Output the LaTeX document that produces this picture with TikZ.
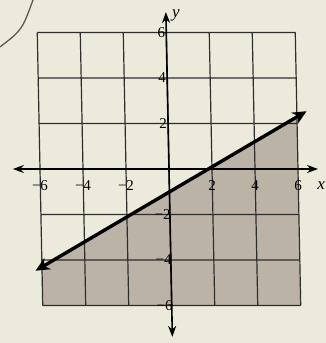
\documentclass[tikz,border=0pt]{standalone}
\usepackage{fontspec}
\setmainfont{Liberation Serif}
\usetikzlibrary{arrows.meta}
\definecolor{paper}{HTML}{ECEADA}
\definecolor{halfgray}{HTML}{BAB3A6}
\definecolor{gridc}{HTML}{2E2E2E}
\definecolor{arcc}{HTML}{5A5A56}
\tikzset{
  gridline/.style={draw=gridc, line width=1.2pt},
  axisline/.style={draw=black, line width=1.6pt, {Stealth[length=11pt,width=8pt]}-{Stealth[length=11pt,width=8pt]}},
  bdline/.style={draw=black, line width=3.4pt, {Stealth[length=14pt,width=13pt]}-{Stealth[length=14pt,width=13pt]}},
  xlab/.style={inner sep=0pt, anchor=center, yshift=-17pt, font=\fontsize{15}{15}\selectfont},
  ylab/.style={inner sep=0pt, anchor=east, font=\fontsize{15}{15}\selectfont},
  axname/.style={inner sep=0pt, font=\fontsize{17}{17}\selectfont\itshape}
}
\begin{document}
\begin{tikzpicture}[x=21.5pt,y=22.75pt]
\path[use as bounding box, fill=paper] (-169pt,-174pt) rectangle (157pt,169pt);
% arc fragment at top-left
\draw[arcc, line width=1.3pt] (-169pt,122pt) .. controls (-147pt,139pt) .. (-136pt,169pt);
\begin{scope}[xslant=-0.02]
  % shaded half-plane
  \fill[halfgray] (-6,-4.3) -- (6,2.3) -- (6,-6) -- (-6,-6) -- cycle;
  % grid
  \draw[gridline] (-6,-6) grid[xstep=2,ystep=2] (6,6);
  % axes
  \coordinate (xl) at (-7.26,0);
  \coordinate (xr) at (6.93,0);
  \coordinate (yt) at (0,6.9);
  \coordinate (yb) at (0,-7.38);
  \draw[axisline] (xl) -- (xr);
  \draw[axisline] (yb) -- (yt);
  % boundary line
  \coordinate (la) at (-6.3,-4.47);
  \coordinate (lb) at (6.45,2.54);
  \draw[bdline] (la) -- (lb);
  % labels
  \node[xlab] (xm6) at (-6,0) {−6};
  \node[xlab] (xm4) at (-4,0) {−4};
  \node[xlab] (xm2) at (-2,0) {−2};
  \node[xlab] (xp2) at (2,0) {2};
  \node[xlab] (xp4) at (4,0) {4};
  \node[xlab] (xp6) at (6,0) {6};
  \node[ylab, xshift=-1pt] (yp6) at (0,6) {6};
  \node[ylab, xshift=-1pt] (yp4) at (0,4) {4};
  \node[ylab, xshift=-1pt] (yp2) at (0,2) {2};
  \node[ylab, xshift=1pt] (ym2) at (0,-2) {−2};
  \node[ylab, xshift=1pt] (ym4) at (0,-4) {−4};
  \node[ylab, xshift=1pt] (ym6) at (0,-6) {−6};
  \node[axname, anchor=west, xshift=6pt, yshift=-3pt] (ylabel) at (yt) {y};
\end{scope}
\node[axname, anchor=east] (xlabel) at (156pt,-17pt) {x};
\end{tikzpicture}
\end{document}
